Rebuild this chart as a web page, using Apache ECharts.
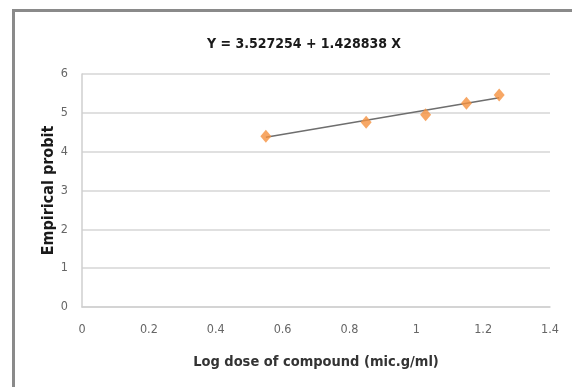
<!DOCTYPE html>
<html>
<head>
<meta charset="utf-8">
<script src="https://cdn.jsdelivr.net/npm/echarts@6/dist/echarts.min.js"></script>
<style>
  html, body { margin: 0; padding: 0; background: #fff; }
  #chart { width: 572px; height: 387px; }
</style>
</head>
<body>
<div id="chart"></div>
<script>
// observed points (log dose, empirical probit)
const logDose = [0.55, 0.85, 1.028, 1.15, 1.248];
const probit = [4.40, 4.76, 4.95, 5.25, 5.46];
// fitted line end points
const fitX = [0.55, 1.248];
const fitY = [4.37, 5.39];

const titleText = 'Y = 3.527254 + 1.428838 X';
const xName = 'Log dose of compound (mic.g/ml)';
const yName = 'Empirical probit';

const font = '"Liberation Sans Narrow", "DejaVu Sans Condensed", "Open Sans", sans-serif';

const chart = echarts.init(document.getElementById('chart'));

chart.setOption({
  backgroundColor: '#fff',
  animation: false,
  title: {
    text: titleText,
    left: 299,
    textAlign: 'center',
    top: 32,
    textStyle: { fontFamily: font, fontSize: 14, fontWeight: 'bold', color: '#1a1a1a' }
  },
  graphic: [
    { type: 'rect', shape: { x: 12, y: 9, width: 3, height: 380 }, style: { fill: '#8a8a8a' } },
    { type: 'rect', shape: { x: 12, y: 9, width: 570, height: 3 }, style: { fill: '#8a8a8a' } }
  ],
  grid: { left: 82, right: 22, top: 74, bottom: 80 },
  xAxis: {
    type: 'value',
    min: 0,
    max: 1.4,
    interval: 0.2,
    name: xName,
    nameLocation: 'middle',
    nameGap: 48,
    nameMoveOverlap: false,
    nameTextStyle: { fontFamily: font, fontSize: 14.5, fontWeight: 'bold', color: '#333' },
    axisLine: { show: true, lineStyle: { color: '#cfcfcf', width: 1.5 } },
    axisTick: { show: false },
    splitLine: { show: false },
    axisLabel: {
      color: '#666', fontFamily: font, fontSize: 12.5, margin: 16,
      formatter: v => String(Math.round(v * 10) / 10)
    }
  },
  yAxis: {
    type: 'value',
    min: 0,
    max: 6,
    interval: 1,
    name: yName,
    nameLocation: 'middle',
    nameGap: 25,
    nameMoveOverlap: false,
    nameTextStyle: { fontFamily: font, fontSize: 16, fontWeight: 'bold', color: '#1a1a1a' },
    axisLine: { show: true, lineStyle: { color: '#cfcfcf', width: 1.5 } },
    axisTick: { show: false },
    splitLine: { lineStyle: { color: '#d6d6d6', width: 1.5 } },
    axisLabel: { color: '#666', fontFamily: font, fontSize: 12.5, margin: 14 }
  },
  series: [
    {
      name: 'Fit',
      type: 'line',
      data: fitX.map((x, i) => [x, fitY[i]]),
      symbol: 'none',
      lineStyle: { color: '#6e6e6e', width: 1.5 },
      z: 2
    },
    {
      name: 'Observed',
      type: 'scatter',
      data: logDose.map((x, i) => [x, probit[i]]),
      symbol: 'diamond',
      symbolSize: [11, 13],
      itemStyle: { color: '#f5913e' },
      z: 3
    }
  ]
});
</script>
</body>
</html>
